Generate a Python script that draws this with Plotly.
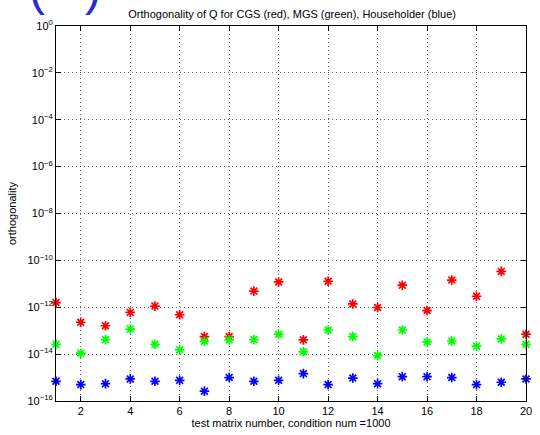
import plotly.graph_objects as go

x = list(range(1, 21))
log_cgs = [-11.80, -12.64, -12.79, -12.22, -11.95, -12.32, -13.25, -13.25, -11.31, -10.92,
           -13.39, -10.89, -11.86, -12.01, -11.06, -12.14, -10.84, -11.53, -10.47, -13.15]
log_mgs = [-13.58, -13.96, -13.38, -12.93, -13.58, -13.81, -13.45, -13.39, -13.38, -13.15,
           -13.90, -12.97, -13.25, -14.06, -12.97, -13.48, -13.44, -13.66, -13.35, -13.58]
log_hh = [-15.16, -15.30, -15.26, -15.06, -15.16, -15.12, -15.58, -15.00, -15.16, -15.12,
          -14.83, -15.30, -15.02, -15.26, -14.96, -14.96, -15.00, -15.30, -15.20, -15.06]

y_exps = list(range(-16, 1, 2))
x_ticks = list(range(2, 21, 2))

cgs = [10 ** v for v in log_cgs]
mgs = [10 ** v for v in log_mgs]
hh = [10 ** v for v in log_hh]

fig = go.Figure()
for ys, col in [(cgs, "#ff0000"), (mgs, "#00ff00"), (hh, "#0000ff")]:
    fig.add_trace(go.Scatter(
        x=x, y=ys, mode="markers",
        marker=dict(symbol="asterisk-open", size=8, color=col, line=dict(color=col, width=1.7)),
        showlegend=False, cliponaxis=False))

font = dict(family="Liberation Sans, Arial, sans-serif", size=11, color="black")
axis_common = dict(showline=True, linecolor="black", linewidth=1, mirror="ticks",
                   ticks="inside", ticklen=5, tickcolor="black",
                   showgrid=True, gridcolor="rgba(0,0,0,0.6)", griddash="1px,3px", gridwidth=1,
                   zeroline=False, tickfont=font)

fig.update_layout(
    width=540, height=435,
    margin=dict(l=56, r=8, t=26, b=32),
    paper_bgcolor="white", plot_bgcolor="white",
    font=font,
    title=dict(text="Orthogonality of Q for CGS (red), MGS (green), Householder (blue)",
               x=0.541, xanchor="center", y=0.968, yanchor="middle", font=font),
    xaxis=dict(range=[1, 20], tickvals=x_ticks,
               title=dict(text="test matrix number, condition num =1000", font=font, standoff=2),
               **axis_common),
    yaxis=dict(type="log", range=[-16, 0],
               tickvals=[10 ** e for e in y_exps],
               ticktext=["10<sup>%s</sup>" % (str(e) if e >= 0 else "\u2212" + str(-e)) for e in y_exps],
               title=dict(text="orthogonality", font=font, standoff=8),
               **axis_common),
)

fig.add_annotation(text="(   )", xref="paper", yref="paper", x=0.019, y=1.024,
                   xanchor="center", yanchor="bottom", showarrow=False,
                   font=dict(family="Liberation Sans, Arial, sans-serif", size=48, color="#2a2ad0"))

fig.write_html("out.html")
